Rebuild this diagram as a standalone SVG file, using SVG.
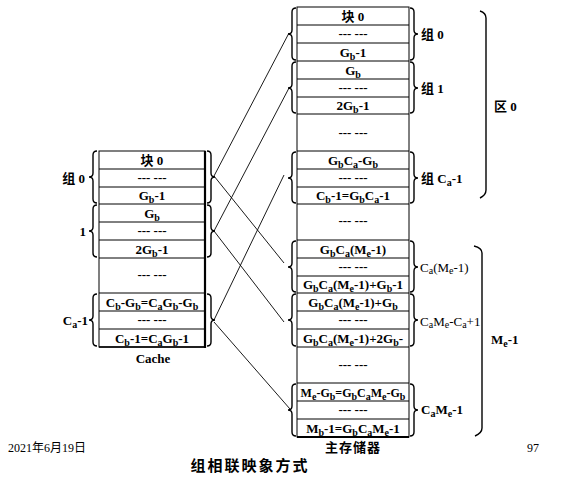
<svg xmlns="http://www.w3.org/2000/svg" width="580" height="480" viewBox="0 0 580 480">
<style>
.b{font-family:"Liberation Serif","Noto Sans CJK SC",serif;font-weight:bold;font-size:13px;fill:#000}
.r{font-family:"Liberation Serif","Noto Sans CJK SC",serif;font-size:13px;fill:#000}
.c{text-anchor:middle}
.s{font-size:10px}
.box{fill:#fff;stroke:#000;stroke-width:1}
.ln{stroke:#000;stroke-width:1}
.br{fill:none;stroke:#000;stroke-width:1.4}
.con{stroke:#000;stroke-width:0.9;fill:none}
.ft{font-family:"Liberation Serif","Noto Sans CJK SC",serif;font-size:12px;fill:#000}
</style>
<rect width="580" height="480" fill="#fff"/>

<g id="connectors">
<line class="con" x1="214" y1="176" x2="289" y2="33"/>
<line class="con" x1="214" y1="176" x2="284" y2="263"/>
<line class="con" x1="214" y1="231" x2="289" y2="88"/>
<line class="con" x1="214" y1="231" x2="284" y2="322"/>
<line class="con" x1="214" y1="320" x2="284" y2="175"/>
<line class="con" x1="214" y1="322" x2="290" y2="409"/>
</g>

<g id="cache">
<rect class="box" x="99" y="151" width="106" height="196"/>
<line x1="205" y1="151" x2="205" y2="348" stroke="#000" stroke-width="2.2"/>
<line class="ln" x1="99" y1="169" x2="205" y2="169"/>
<line class="ln" x1="99" y1="187" x2="205" y2="187"/>
<line class="ln" x1="99" y1="204" x2="205" y2="204"/>
<line class="ln" x1="99" y1="222" x2="205" y2="222"/>
<line class="ln" x1="99" y1="240" x2="205" y2="240"/>
<line class="ln" x1="99" y1="258" x2="205" y2="258"/>
<line class="ln" x1="99" y1="293" x2="205" y2="293"/>
<line class="ln" x1="99" y1="311" x2="205" y2="311"/>
<line class="ln" x1="99" y1="329" x2="205" y2="329"/>
<line x1="99" y1="347" x2="205" y2="347" stroke="#000" stroke-width="1.6"/>
<text class="b c" x="152" y="165">块 0</text>
<text class="b c" x="152" y="182">--- ---</text>
<text class="b c" x="152" y="200">G<tspan class="s" dy="3">b</tspan><tspan dy="-3">-1</tspan></text>
<text class="b c" x="152" y="218">G<tspan class="s" dy="3">b</tspan></text>
<text class="b c" x="152" y="235">--- ---</text>
<text class="b c" x="152" y="254">2G<tspan class="s" dy="3">b</tspan><tspan dy="-3">-1</tspan></text>
<text class="b c" x="152" y="279">--- ---</text>
<text class="b c" x="152" y="307">C<tspan class="s" dy="3">b</tspan><tspan dy="-3">-G</tspan><tspan class="s" dy="3">b</tspan><tspan dy="-3">=C</tspan><tspan class="s" dy="3">a</tspan><tspan dy="-3">G</tspan><tspan class="s" dy="3">b</tspan><tspan dy="-3">-G</tspan><tspan class="s" dy="3">b</tspan></text>
<text class="b c" x="152" y="324">--- ---</text>
<text class="b c" x="152" y="343">C<tspan class="s" dy="3">b</tspan><tspan dy="-3">-1=C</tspan><tspan class="s" dy="3">a</tspan><tspan dy="-3">G</tspan><tspan class="s" dy="3">b</tspan><tspan dy="-3">-1</tspan></text>
<text class="b c" x="153" y="363">Cache</text>
</g>

<g id="cache-braces">
<path class="br" d="M97,151 Q93,151 93,155 L93,173 Q93,177 89,177 Q93,177 93,181 L93,199 Q93,203 97,203"/>
<path class="br" d="M97,205 Q93,205 93,209 L93,227 Q93,231 89,231 Q93,231 93,235 L93,253 Q93,257 97,257"/>
<path class="br" d="M97,294 Q93,294 93,298 L93,316 Q93,320 89,320 Q93,320 93,324 L93,342 Q93,346 97,346"/>
<path class="br" d="M207,151 Q211,151 211,155 L211,173 Q211,177 215,177 Q211,177 211,181 L211,199 Q211,203 207,203"/>
<path class="br" d="M207,205 Q211,205 211,209 L211,227 Q211,231 215,231 Q211,231 211,235 L211,253 Q211,257 207,257"/>
<path class="br" d="M207,294 Q211,294 211,298 L211,316 Q211,320 215,320 Q211,320 211,324 L211,342 Q211,346 207,346"/>
<text class="b" x="85" y="183" text-anchor="end">组 0</text>
<text class="b" x="86" y="236" text-anchor="end">1</text>
<text class="b" x="88" y="325" text-anchor="end">C<tspan class="s" dy="3">a</tspan><tspan dy="-3">-1</tspan></text>
</g>

<g id="main-memory">
<rect class="box" x="297" y="7" width="112" height="430"/>
<line class="ln" x1="297" y1="25" x2="409" y2="25"/>
<line class="ln" x1="297" y1="43" x2="409" y2="43"/>
<line class="ln" x1="297" y1="61" x2="409" y2="61"/>
<line class="ln" x1="297" y1="79" x2="409" y2="79"/>
<line class="ln" x1="297" y1="97" x2="409" y2="97"/>
<line class="ln" x1="297" y1="114" x2="409" y2="114"/>
<line class="ln" x1="297" y1="151" x2="409" y2="151"/>
<line class="ln" x1="297" y1="169" x2="409" y2="169"/>
<line class="ln" x1="297" y1="187" x2="409" y2="187"/>
<line class="ln" x1="297" y1="204" x2="409" y2="204"/>
<line class="ln" x1="297" y1="240" x2="409" y2="240"/>
<line class="ln" x1="297" y1="258" x2="409" y2="258"/>
<line class="ln" x1="297" y1="276" x2="409" y2="276"/>
<line class="ln" x1="297" y1="293" x2="409" y2="293"/>
<line class="ln" x1="297" y1="311" x2="409" y2="311"/>
<line class="ln" x1="297" y1="329" x2="409" y2="329"/>
<line class="ln" x1="297" y1="347" x2="409" y2="347"/>
<line class="ln" x1="297" y1="383" x2="409" y2="383"/>
<line class="ln" x1="297" y1="401" x2="409" y2="401"/>
<line class="ln" x1="297" y1="419" x2="409" y2="419"/>
<line x1="297" y1="437" x2="409" y2="437" stroke="#000" stroke-width="2"/>
<text class="b c" x="353" y="21">块 0</text>
<text class="b c" x="353" y="38">--- ---</text>
<text class="b c" x="353" y="57">G<tspan class="s" dy="3">b</tspan><tspan dy="-3">-1</tspan></text>
<text class="b c" x="353" y="75">G<tspan class="s" dy="3">b</tspan></text>
<text class="b c" x="353" y="92">--- ---</text>
<text class="b c" x="353" y="110">2G<tspan class="s" dy="3">b</tspan><tspan dy="-3">-1</tspan></text>
<text class="b c" x="353" y="137">--- ---</text>
<text class="b c" x="353" y="165">G<tspan class="s" dy="3">b</tspan><tspan dy="-3">C</tspan><tspan class="s" dy="3">a</tspan><tspan dy="-3">-G</tspan><tspan class="s" dy="3">b</tspan></text>
<text class="b c" x="353" y="182">--- ---</text>
<text class="b c" x="353" y="200">C<tspan class="s" dy="3">b</tspan><tspan dy="-3">-1=G</tspan><tspan class="s" dy="3">b</tspan><tspan dy="-3">C</tspan><tspan class="s" dy="3">a</tspan><tspan dy="-3">-1</tspan></text>
<text class="b c" x="353" y="225">--- ---</text>
<text class="b c" x="353" y="254">G<tspan class="s" dy="3">b</tspan><tspan dy="-3">C</tspan><tspan class="s" dy="3">a</tspan><tspan dy="-3">(M</tspan><tspan class="s" dy="3">e</tspan><tspan dy="-3">-1)</tspan></text>
<text class="b c" x="353" y="271">--- ---</text>
<text class="b c" x="353" y="289">G<tspan class="s" dy="3">b</tspan><tspan dy="-3">C</tspan><tspan class="s" dy="3">a</tspan><tspan dy="-3">(M</tspan><tspan class="s" dy="3">e</tspan><tspan dy="-3">-1)+G</tspan><tspan class="s" dy="3">b</tspan><tspan dy="-3">-1</tspan></text>
<text class="b c" x="353" y="307">G<tspan class="s" dy="3">b</tspan><tspan dy="-3">C</tspan><tspan class="s" dy="3">a</tspan><tspan dy="-3">(M</tspan><tspan class="s" dy="3">e</tspan><tspan dy="-3">-1)+G</tspan><tspan class="s" dy="3">b</tspan></text>
<text class="b c" x="353" y="324">--- ---</text>
<text class="b c" x="353" y="343">G<tspan class="s" dy="3">b</tspan><tspan dy="-3">C</tspan><tspan class="s" dy="3">a</tspan><tspan dy="-3">(M</tspan><tspan class="s" dy="3">e</tspan><tspan dy="-3">-1)+2G</tspan><tspan class="s" dy="3">b</tspan><tspan dy="-3">-</tspan></text>
<text class="b c" x="353" y="369">--- ---</text>
<text class="b c" x="353" y="397" style="font-size:12px">M<tspan class="s" dy="3">e</tspan><tspan dy="-3">-G</tspan><tspan class="s" dy="3">b</tspan><tspan dy="-3">=G</tspan><tspan class="s" dy="3">b</tspan><tspan dy="-3">C</tspan><tspan class="s" dy="3">a</tspan><tspan dy="-3">M</tspan><tspan class="s" dy="3">e</tspan><tspan dy="-3">-G</tspan><tspan class="s" dy="3">b</tspan></text>
<text class="b c" x="353" y="414">--- ---</text>
<text class="b c" x="353" y="433">M<tspan class="s" dy="3">b</tspan><tspan dy="-3">-1=G</tspan><tspan class="s" dy="3">b</tspan><tspan dy="-3">C</tspan><tspan class="s" dy="3">a</tspan><tspan dy="-3">M</tspan><tspan class="s" dy="3">e</tspan><tspan dy="-3">-1</tspan></text>
<text class="b c" x="353" y="452" style="letter-spacing:1px">主存储器</text>
</g>

<g id="main-braces">
<path class="br" d="M296,8 Q292,8 292,12 L292,30 Q292,34 288,34 Q292,34 292,38 L292,56 Q292,60 296,60"/>
<path class="br" d="M296,62 Q292,62 292,66 L292,84 Q292,88 288,88 Q292,88 292,92 L292,109 Q292,113 296,113"/>
<path class="br" d="M296,152 Q292,152 292,156 L292,174 Q292,178 288,178 Q292,178 292,182 L292,199 Q292,203 296,203"/>
<path class="br" d="M296,241 Q292,241 292,245 L292,263 Q292,267 288,267 Q292,267 292,271 L292,288 Q292,292 296,292"/>
<path class="br" d="M296,294 Q292,294 292,298 L292,316 Q292,320 288,320 Q292,320 292,324 L292,342 Q292,346 296,346"/>
<path class="br" d="M296,384 Q292,384 292,388 L292,406 Q292,410 288,410 Q292,410 292,414 L292,432 Q292,436 296,436"/>
<path class="br" d="M410,8 Q414,8 414,12 L414,30 Q414,34 418,34 Q414,34 414,38 L414,56 Q414,60 410,60"/>
<path class="br" d="M410,62 Q414,62 414,66 L414,84 Q414,88 418,88 Q414,88 414,92 L414,109 Q414,113 410,113"/>
<path class="br" d="M410,152 Q414,152 414,156 L414,174 Q414,178 418,178 Q414,178 414,182 L414,199 Q414,203 410,203"/>
<path class="br" d="M410,241 Q414,241 414,245 L414,263 Q414,267 418,267 Q414,267 414,271 L414,288 Q414,292 410,292"/>
<path class="br" d="M410,294 Q414,294 414,298 L414,316 Q414,320 418,320 Q414,320 414,324 L414,342 Q414,346 410,346"/>
<path class="br" d="M410,384 Q414,384 414,388 L414,406 Q414,410 418,410 Q414,410 414,414 L414,432 Q414,436 410,436"/>
<text class="b" x="421" y="39">组 0</text>
<text class="b" x="421" y="93">组 1</text>
<text class="b" x="421" y="183">组 C<tspan class="s" dy="3">a</tspan><tspan dy="-3">-1</tspan></text>
<text class="r" x="420" y="272">C<tspan class="s" dy="2">a</tspan><tspan dy="-2">(M</tspan><tspan class="s" dy="2">e</tspan><tspan dy="-2">-1)</tspan></text>
<text class="r" x="420" y="326">C<tspan class="s" dy="2">a</tspan><tspan dy="-2">M</tspan><tspan class="s" dy="2">e</tspan><tspan dy="-2">-C</tspan><tspan class="s" dy="2">a</tspan><tspan dy="-2">+1</tspan></text>
<text class="b" x="421" y="414">C<tspan class="s" dy="3">a</tspan><tspan dy="-3">M</tspan><tspan class="s" dy="3">e</tspan><tspan dy="-3">-1</tspan></text>
</g>

<g id="regions">
<path class="br" d="M480,11 Q486,13 486,18 L486,190 Q486,195 480,198" stroke-width="1.2"/>
<text class="b" x="494" y="111">区 0</text>
<path class="br" d="M474,246 Q482,248 482,253 L482,428 Q482,433 475,436" stroke-width="1.2"/>
<text class="b" x="491" y="344">M<tspan class="s" dy="3">e</tspan><tspan dy="-3">-1</tspan></text>
</g>

<g id="footer">
<text class="ft" x="8" y="452">2021年6月19日</text>
<text class="ft" x="527" y="452">97</text>
<text x="250" y="471" text-anchor="middle" style="font-family:'Noto Sans CJK SC',sans-serif;font-weight:bold;font-size:15px;letter-spacing:2px">组相联映象方式</text>
</g>
</svg>
